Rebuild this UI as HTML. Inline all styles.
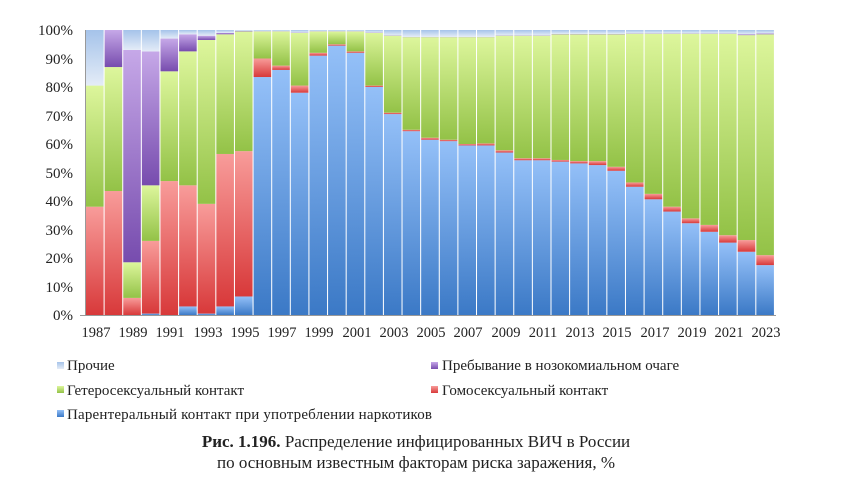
<!DOCTYPE html>
<html><head><meta charset="utf-8"><style>
body{margin:0;background:#fff;width:848px;height:485px;overflow:hidden}
svg{display:block}
text{font-family:"Liberation Serif","DejaVu Serif",serif;fill:#222}
</style></head><body>
<svg id="s" width="848" height="485" viewBox="0 0 848 485" xmlns="http://www.w3.org/2000/svg">
<defs>
<linearGradient id="gb" x1="0" y1="0" x2="0" y2="1"><stop offset="0" stop-color="#94c0f8"/><stop offset="1" stop-color="#3b79c6"/></linearGradient>
<linearGradient id="gr" x1="0" y1="0" x2="0" y2="1"><stop offset="0" stop-color="#f89c9a"/><stop offset="1" stop-color="#d8393a"/></linearGradient>
<linearGradient id="gg" x1="0" y1="0" x2="0" y2="1"><stop offset="0" stop-color="#ddf69c"/><stop offset="1" stop-color="#93c247"/></linearGradient>
<linearGradient id="gp" x1="0" y1="0" x2="0" y2="1"><stop offset="0" stop-color="#c6a8e8"/><stop offset="1" stop-color="#774cae"/></linearGradient>
<linearGradient id="go" x1="0" y1="0" x2="0" y2="1"><stop offset="0" stop-color="#a5c3ea"/><stop offset="1" stop-color="#e4ecf7"/></linearGradient>
</defs>
<g id="bars"></g>
<line x1="85.5" y1="30" x2="85.5" y2="316" stroke="#999"/>
<line x1="80" y1="315.5" x2="776" y2="315.5" stroke="#999"/>
<g font-size="15" text-anchor="end">
<text x="73" y="320">0%</text><text x="73" y="292">10%</text><text x="73" y="263">20%</text><text x="73" y="235">30%</text><text x="73" y="206">40%</text><text x="73" y="178">50%</text><text x="73" y="149">60%</text><text x="73" y="121">70%</text><text x="73" y="92">80%</text><text x="73" y="64">90%</text><text x="73" y="35">100%</text>
</g>
<g font-size="14.5" text-anchor="middle">
<text x="96" y="337">1987</text><text x="133" y="337">1989</text><text x="170" y="337">1991</text><text x="208" y="337">1993</text><text x="245" y="337">1995</text><text x="282" y="337">1997</text><text x="319" y="337">1999</text><text x="357" y="337">2001</text><text x="394" y="337">2003</text><text x="431" y="337">2005</text><text x="468" y="337">2007</text><text x="506" y="337">2009</text><text x="543" y="337">2011</text><text x="580" y="337">2013</text><text x="617" y="337">2015</text><text x="655" y="337">2017</text><text x="692" y="337">2019</text><text x="729" y="337">2021</text><text x="766" y="337">2023</text>
</g>
<g font-size="15">
<rect x="57" y="362" width="7" height="7" fill="url(#go)"/><text x="67" y="370">Прочие</text>
<rect x="57" y="386" width="7" height="7" fill="url(#gg)"/><text x="67" y="395">Гетеросексуальный контакт</text>
<rect x="57" y="410" width="7" height="7" fill="url(#gb)"/><text x="67" y="419" textLength="365">Парентеральный контакт при употреблении наркотиков</text>
<rect x="431" y="362" width="7" height="7" fill="url(#gp)"/><text x="442" y="370">Пребывание в нозокомиальном очаге</text>
<rect x="431" y="386" width="7" height="7" fill="url(#gr)"/><text x="442" y="395">Гомосексуальный контакт</text>
</g>
<g font-size="17" text-anchor="middle">
<text x="416" y="447"><tspan font-weight="bold">Рис. 1.196.</tspan> Распределение инфицированных ВИЧ в России</text>
<text x="416" y="468">по основным известным факторам риска заражения, %</text>
</g>
</svg>
<script>
var d=[[0,38,80.5,80.5],[0,43.5,87,100],[0,6,18.5,93],[0.5,26,45.5,92.5],[0,47,85.5,97],[3,45.5,92.5,98.5],[0.5,39,96.5,98],[3,56.5,98.5,99],[6.5,57.5,99.5,99.7],
[83.5,90,99.5,99.6],[86,87.5,99.5,99.6],[78,80.5,99,99.1],[91,92,99.5,99.6],[94.5,95,99.5,99.6],[92,92.5,99.5,99.6],[80,80.5,99,99.1],[70.5,71,98,98.1],[64.5,65,97.5,97.6],[61.5,62.2,97.5,97.6],[61,61.5,97.5,97.6],[59.5,60,97.5,97.6],[59.5,60.2,97.5,97.6],[57,57.8,98,98.1],[54.3,55,98,98.1],[54.3,55,98,98.1],[53.8,54.4,98.5,98.6],[53.2,54,98.5,98.6],[52.6,54,98.5,98.6],[50.6,52,98.5,98.6],[45,46.5,98.7,98.8],[40.6,42.5,98.7,98.8],[36.3,38,98.7,98.8],[32.2,33.9,98.7,98.8],[29.2,31.6,98.7,98.8],[25.4,28,98.7,98.8],[22.2,26.3,98.2,98.5],[17.5,21,98.5,98.8]];
var g=document.getElementById('bars'),h='',f=['gb','gr','gg','gp','go'];
function Y(p){return 315-p*2.85}
d.forEach(function(r,i){var x=86+i*18.62,v=[0].concat(r).concat([100]);
for(var k=0;k<5;k++){var a=v[k],b=v[k+1];if(b-a>0.01)h+='<rect x="'+x.toFixed(2)+'" y="'+Y(b).toFixed(2)+'" width="17.6" height="'+((b-a)*2.85).toFixed(2)+'" fill="url(#'+f[k]+')"/>';}
});
g.innerHTML=h;
</script>
</body></html>
